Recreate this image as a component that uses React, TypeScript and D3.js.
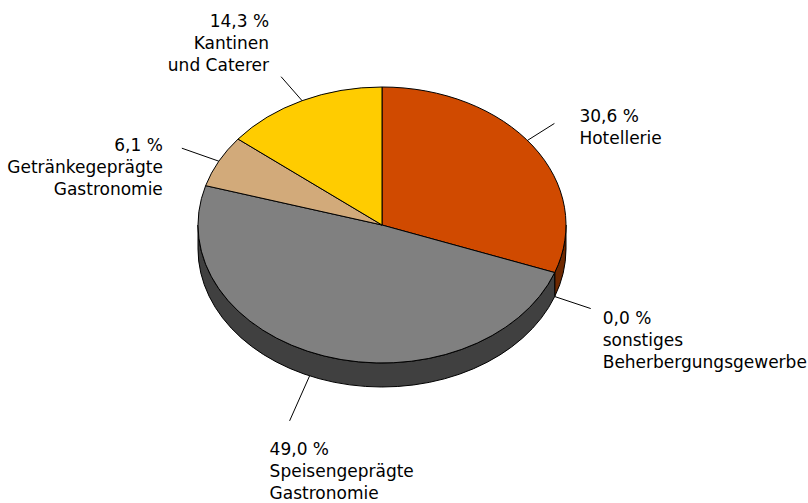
import { useEffect, useRef } from "react"
import * as d3 from "d3"

// shares in percent, clockwise from 12 o'clock
const categories = [
  "Hotellerie",
  "sonstiges Beherbergungsgewerbe",
  "Speisengeprägte Gastronomie",
  "Getränkegeprägte Gastronomie",
  "Kantinen und Caterer",
]
const shares = [30.6, 0.0, 49.0, 6.1, 14.3]
const shareLabels = ["30,6 %", "0,0 %", "49,0 %", "6,1 %", "14,3 %"]
const labelLines = [
  ["Hotellerie"],
  ["sonstiges", "Beherbergungsgewerbe"],
  ["Speisengeprägte", "Gastronomie"],
  ["Getränkegeprägte", "Gastronomie"],
  ["Kantinen", "und Caterer"],
]

const topColors = ["#d04a00", "#9c9c9c", "#808080", "#d2aa7a", "#ffcc00"]
const sideColors = ["#6e2800", "#505050", "#404040", "#8a6e4e", "#a08000"]

// label layout: leader start angle shift, leader end offset, text offset from leader end
const labelLayout = [
  { da: -0.05, lx: 27, ly: -17, tx: 25, ty: -1, anchor: "start" },
  { da: 0, lx: 36, ly: 12, tx: 12, ty: 15, anchor: "start" },
  { da: 0.084, lx: -20, ly: 45, tx: -20, ty: 34, anchor: "start" },
  { da: 0, lx: -37, ly: -13, tx: -19, ty: 3, anchor: "end" },
  { da: 0, lx: -21, ly: -24, tx: -12, ty: -50, anchor: "end" },
]

const App = () => {
  const svgRef = useRef<SVGSVGElement>(null)

  useEffect(() => {
    if (!svgRef.current) return
    const svg = d3.select(svgRef.current)
    svg.selectAll("*").remove()

    const cx = 382
    const cy = 225
    const rx = 184
    const ry = 138
    const depth = 24

    const pt = (a: number, dy = 0) => [cx + rx * Math.sin(a), cy - ry * Math.cos(a) + dy]

    const arcs = d3
      .pie<number>()
      .sort(null)
      .startAngle(0)
      .endAngle(2 * Math.PI)(shares)

    // side walls (only front half visible)
    const sides = svg.append("g")
    arcs.forEach((d, i) => {
      const a0 = Math.max(d.startAngle, Math.PI / 2)
      const a1 = Math.min(d.endAngle, (3 * Math.PI) / 2)
      if (a1 <= a0) return
      const p0 = pt(a0)
      const p1 = pt(a1)
      const q1 = pt(a1, depth)
      const q0 = pt(a0, depth)
      const path =
        `M${p0[0]},${p0[1]} A${rx},${ry} 0 0 1 ${p1[0]},${p1[1]} ` +
        `L${q1[0]},${q1[1]} A${rx},${ry} 0 0 0 ${q0[0]},${q0[1]} Z`
      sides
        .append("path")
        .attr("d", path)
        .attr("fill", sideColors[i])
        .attr("stroke", "#000")
        .attr("stroke-width", 1)
        .attr("stroke-linejoin", "round")
    })

    // top face
    const tops = svg.append("g")
    arcs.forEach((d, i) => {
      if (d.endAngle - d.startAngle <= 0) return
      const p0 = pt(d.startAngle)
      const p1 = pt(d.endAngle)
      const large = d.endAngle - d.startAngle > Math.PI ? 1 : 0
      const path = `M${cx},${cy} L${p0[0]},${p0[1]} A${rx},${ry} 0 ${large} 1 ${p1[0]},${p1[1]} Z`
      tops
        .append("path")
        .attr("d", path)
        .attr("fill", topColors[i])
        .attr("stroke", "#000")
        .attr("stroke-width", 1)
        .attr("stroke-linejoin", "round")
    })

    // leader lines and labels
    const labels = svg.append("g").style("font", "17px 'DejaVu Sans', sans-serif")
    arcs.forEach((d, i) => {
      const L = labelLayout[i]
      const mid = (d.startAngle + d.endAngle) / 2 + L.da
      const front = Math.cos(mid) < 0
      const s = pt(mid, front ? depth : 0)
      const e = [s[0] + L.lx, s[1] + L.ly]
      labels
        .append("line")
        .attr("x1", s[0])
        .attr("y1", s[1])
        .attr("x2", e[0])
        .attr("y2", e[1])
        .attr("stroke", "#000")
        .attr("stroke-width", 1)
      const text = labels
        .append("text")
        .attr("text-anchor", L.anchor)
        .attr("fill", "#000")
      const lines = [shareLabels[i], ...labelLines[i]]
      lines.forEach((line, j) => {
        text
          .append("tspan")
          .attr("x", e[0] + L.tx)
          .attr("y", e[1] + L.ty + j * 22)
          .text(line)
      })
      text.append("title").text(categories[i])
    })
  }, [])

  return (
    <svg
      ref={svgRef}
      width={808}
      height={503}
      style={{ position: "absolute", left: 0, top: 0, background: "#fff" }}
    />
  )
}

export default App
